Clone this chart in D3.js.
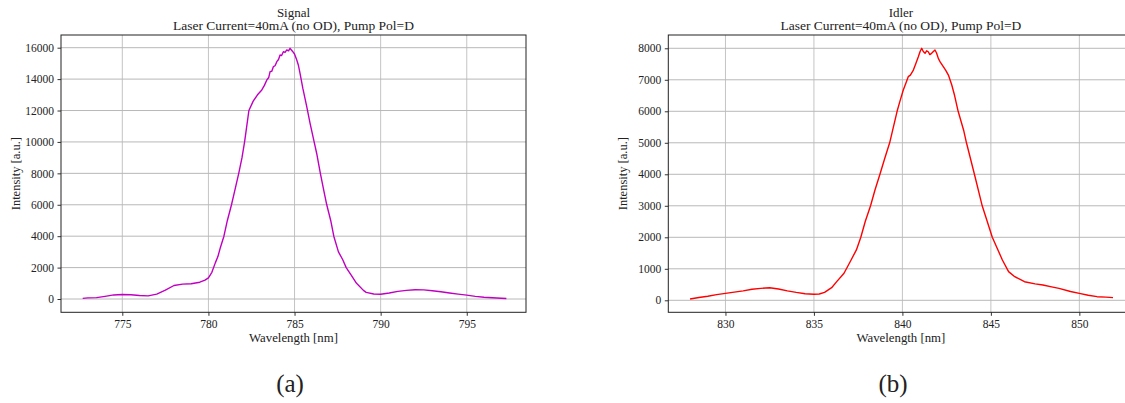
<!DOCTYPE html>
<html>
<head>
<meta charset="utf-8">
<script src="https://cdn.jsdelivr.net/npm/d3@7"></script>
<style>
  html, body { margin: 0; padding: 0; background: #fff; }
  svg { display: block; }
  text { font-family: "Liberation Serif", "DejaVu Serif", serif; fill: #222; }
</style>
</head>
<body>
<svg id="fig" width="1125" height="403"></svg>
<script>
// Signal spectrum: wavelength [nm] and intensity [a.u.]
const signalWavelength = [772.7,773.0,773.5,774.0,774.5,775.0,775.5,776.0,776.5,777.0,777.5,778.0,778.5,779.0,779.5,779.8,780.0,780.2,780.4,780.55,780.7,780.9,781.1,781.34,781.55,781.76,781.95,782.1,782.2,782.35,782.6,782.85,783.1,783.25,783.39,783.5,783.58,783.68,783.77,783.87,783.97,784.07,784.16,784.25,784.35,784.45,784.55,784.65,784.74,784.82,784.9,785.0,785.13,785.22,785.32,785.48,785.7,785.9,786.1,786.3,786.5,786.7,786.87,787.1,787.28,787.55,787.8,788.0,788.3,788.6,789.0,789.16,789.6,790.0,790.5,791.0,791.5,792.0,792.5,793.0,793.5,794.0,794.5,795.0,795.5,796.0,796.5,797.0,797.3];
const signalIntensity  = [40,70,90,170,260,290,270,220,200,310,560,860,950,970,1070,1200,1350,1700,2300,2700,3300,4000,5000,6000,7000,8000,9000,10000,10800,12000,12600,13000,13310,13600,13946,14100,14475,14500,14790,14850,15110,15250,15535,15500,15745,15700,15855,15800,15960,15850,15745,15600,15220,14900,14370,13420,12300,11200,10200,9200,8000,6900,6000,5000,4000,3000,2500,2000,1500,1000,550,420,320,300,380,485,550,590,580,530,460,380,310,250,170,110,80,50,30];

// Idler spectrum: wavelength [nm] and intensity [a.u.]
const idlerWavelength = [828.0,828.5,829.0,829.5,830.0,830.5,831.0,831.5,832.0,832.5,833.0,833.5,834.0,834.5,835.0,835.3,835.6,836.0,836.3,836.7,837.1,837.4,837.65,837.9,838.2,838.45,838.73,839.0,839.28,839.45,839.7,839.85,840.05,840.2,840.33,840.45,840.62,840.75,840.9,841.0,841.09,841.18,841.28,841.37,841.46,841.55,841.65,841.75,841.84,841.93,842.03,842.15,842.31,842.45,842.6,842.79,842.95,843.15,843.46,843.62,844.07,844.51,845.08,845.65,846.0,846.35,846.9,847.5,847.94,848.5,848.85,849.5,850.0,850.5,851.0,851.5,851.9];
const idlerIntensity  = [40,90,130,180,220,260,300,350,380,400,360,300,250,210,190,200,250,400,600,860,1280,1600,2000,2500,3000,3500,4000,4500,5000,5400,6000,6300,6676,6900,7100,7150,7310,7500,7733,7900,8000,7900,7840,7920,7890,7800,7840,7900,7946,7850,7680,7550,7415,7300,7150,6835,6500,6000,5400,5000,4000,3000,2000,1280,910,750,590,520,485,420,380,280,220,160,115,100,85];

// Tick values
const signalXTicks = [775, 780, 785, 790, 795];
const signalYTicks = [0, 2000, 4000, 6000, 8000, 10000, 12000, 14000, 16000];
const idlerXTicks = [830, 835, 840, 845, 850];
const idlerYTicks = [0, 1000, 2000, 3000, 4000, 5000, 6000, 7000, 8000];

const panels = [
  {
    title: "Signal", subtitle: "Laser Current=40mA (no OD), Pump Pol=D",
    xs: signalWavelength, ys: signalIntensity, color: "#c000c0",
    xDomain: [771.44, 798.44], yDomain: [-846, 16808],
    xTicks: signalXTicks, yTicks: signalYTicks,
    left: 61, right: 526, caption: "(a)", captionX: 290
  },
  {
    title: "Idler", subtitle: "Laser Current=40mA (no OD), Pump Pol=D",
    xs: idlerWavelength, ys: idlerIntensity, color: "#ff0000",
    xDomain: [826.77, 853.06], yDomain: [-381, 8422],
    xTicks: idlerXTicks, yTicks: idlerYTicks,
    left: 668.3, right: 1133.5, caption: "(b)", captionX: 893
  }
];

const plotTop = 35, plotBottom = 312.3;
const svg = d3.select("#fig");

panels.forEach((p, i) => {
  const x = d3.scaleLinear().domain(p.xDomain).range([p.left, p.right]);
  const y = d3.scaleLinear().domain(p.yDomain).range([plotBottom, plotTop]);
  const g = svg.append("g");
  const cx = (p.left + p.right) / 2;

  const clipId = "clip" + i;
  g.append("clipPath").attr("id", clipId)
    .append("rect").attr("x", p.left).attr("y", plotTop)
    .attr("width", p.right - p.left).attr("height", plotBottom - plotTop);

  // grid
  g.append("g").selectAll("line").data(p.xTicks).join("line")
    .attr("x1", d => x(d)).attr("x2", d => x(d))
    .attr("y1", plotTop).attr("y2", plotBottom)
    .attr("stroke", "#c4c4c4").attr("stroke-width", 1);
  g.append("g").selectAll("line").data(p.yTicks).join("line")
    .attr("x1", p.left).attr("x2", p.right)
    .attr("y1", d => y(d)).attr("y2", d => y(d))
    .attr("stroke", "#b8b8b8").attr("stroke-width", 1);

  // spectrum line
  const pts = p.xs.map((v, k) => [v, p.ys[k]]);
  g.append("path").datum(pts)
    .attr("clip-path", `url(#${clipId})`)
    .attr("fill", "none").attr("stroke", p.color).attr("stroke-width", 1.4)
    .attr("stroke-linejoin", "round")
    .attr("d", d3.line().x(d => x(d[0])).y(d => y(d[1])));

  // axes
  const xAxis = d3.axisBottom(x).tickValues(p.xTicks).tickSize(3.5).tickPadding(4).tickFormat(d3.format("d"));
  const yAxis = d3.axisLeft(y).tickValues(p.yTicks).tickSize(3.5).tickPadding(3.5).tickFormat(d3.format("d"));
  const ax = g.append("g").attr("transform", `translate(0,${plotBottom})`).call(xAxis);
  const ay = g.append("g").attr("transform", `translate(${p.left},0)`).call(yAxis);
  [ax, ay].forEach(a => {
    a.attr("font-family", null);
    a.select(".domain").remove();
    a.selectAll(".tick line").attr("stroke", "#333");
    a.selectAll(".tick text").attr("font-size", 11.5).attr("fill", "#333");
  });

  // frame
  g.append("rect").attr("x", p.left).attr("y", plotTop)
    .attr("width", p.right - p.left).attr("height", plotBottom - plotTop)
    .attr("fill", "none").attr("stroke", "#222").attr("stroke-width", 1);

  // titles
  g.append("text").attr("x", cx).attr("y", 17).attr("text-anchor", "middle")
    .attr("font-size", 13).text(p.title);
  g.append("text").attr("x", cx).attr("y", 30).attr("text-anchor", "middle")
    .attr("font-size", 13.5).text(p.subtitle);

  // axis labels
  g.append("text").attr("x", cx).attr("y", 341.5).attr("text-anchor", "middle")
    .attr("font-size", 12.8).text("Wavelength [nm]");
  g.append("text")
    .attr("transform", `translate(${p.left - 41},${(plotTop + plotBottom) / 2}) rotate(-90)`)
    .attr("text-anchor", "middle").attr("font-size", 12.5).text("Intensity [a.u.]");

  // caption
  g.append("text").attr("x", p.captionX).attr("y", 392).attr("text-anchor", "middle")
    .attr("font-size", 25).attr("fill", "#000").text(p.caption);
});
</script>
</body>
</html>
